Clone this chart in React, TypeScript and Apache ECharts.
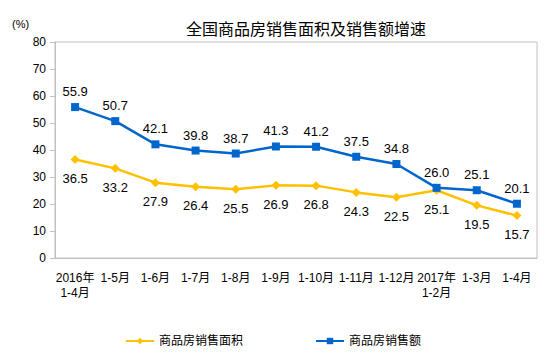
import React, { useEffect, useRef } from "react";
import * as echarts from "echarts";

const categories = [
  "2016年\n1-4月", "1-5月", "1-6月", "1-7月", "1-8月", "1-9月",
  "1-10月", "1-11月", "1-12月", "2017年\n1-2月", "1-3月", "1-4月",
];
const areaGrowth = [36.5, 33.2, 27.9, 26.4, 25.5, 26.9, 26.8, 24.3, 22.5, 25.1, 19.5, 15.7];
const salesGrowth = [55.9, 50.7, 42.1, 39.8, 38.7, 41.3, 41.2, 37.5, 34.8, 26.0, 25.1, 20.1];

const FONT = "'Liberation Sans', Arial, 'Noto Sans CJK SC', sans-serif";

export default function App() {
  const ref = useRef<HTMLDivElement>(null);
  useEffect(() => {
    if (!ref.current) return;
    const chart = echarts.init(ref.current, null, { renderer: "svg" });
    chart.setOption({
      animation: false,
      textStyle: { fontFamily: FONT },
      title: {
        text: "全国商品房销售面积及销售额增速",
        left: 181,
        top: 16,
        textStyle: { fontSize: 16, fontWeight: "normal", color: "#000", fontFamily: FONT },
      },
      graphic: [
        {
          type: "text",
          left: 12,
          top: 18,
          style: { text: "(%)", fontSize: 11, fill: "#000", fontFamily: FONT },
        },
      ],
      legend: {
        top: 330,
        left: 120,
        itemGap: 72,
        itemWidth: 28,
        itemHeight: 8,
        textStyle: { fontSize: 12, color: "#000", fontFamily: FONT },
        data: ["商品房销售面积", "商品房销售额"],
      },
      grid: {
        left: 55,
        right: 17,
        top: 42,
        bottom: 100,
        show: true,
        borderColor: "#c0c0c0",
        borderWidth: 1,
      },
      xAxis: {
        type: "category",
        data: categories,
        boundaryGap: true,
        axisLine: { lineStyle: { color: "#c0c0c0" } },
        axisTick: { inside: true, length: 4, lineStyle: { color: "#c0c0c0" } },
        axisLabel: { color: "#000", fontSize: 12, margin: 12, lineHeight: 15, interval: 0 },
      },
      yAxis: {
        type: "value",
        min: 0,
        max: 80,
        interval: 10,
        axisLine: { show: true, lineStyle: { color: "#c0c0c0" } },
        axisTick: { show: true, length: 5, lineStyle: { color: "#c0c0c0" } },
        splitLine: { show: false },
        axisLabel: { color: "#000", fontSize: 12, margin: 9 },
      },
      series: [
        {
          name: "商品房销售面积",
          type: "line",
          data: areaGrowth,
          symbol: "diamond",
          symbolSize: 9,
          itemStyle: { color: "#FFC000" },
          lineStyle: { color: "#FFC000", width: 2.5 },
          label: {
            show: true,
            position: "bottom",
            distance: 8,
            fontSize: 13,
            color: "#000",
            formatter: (p: any) => p.value.toFixed(1),
          },
        },
        {
          name: "商品房销售额",
          type: "line",
          data: salesGrowth,
          symbol: "rect",
          symbolSize: 8,
          itemStyle: { color: "#0066CC" },
          lineStyle: { color: "#0066CC", width: 2.5 },
          label: {
            show: true,
            position: "top",
            distance: 5,
            fontSize: 13,
            color: "#000",
            formatter: (p: any) => p.value.toFixed(1),
          },
        },
      ],
    });
    return () => chart.dispose();
  }, []);
  return <div ref={ref} style={{ width: 554, height: 358, margin: -8 }} />;
}
